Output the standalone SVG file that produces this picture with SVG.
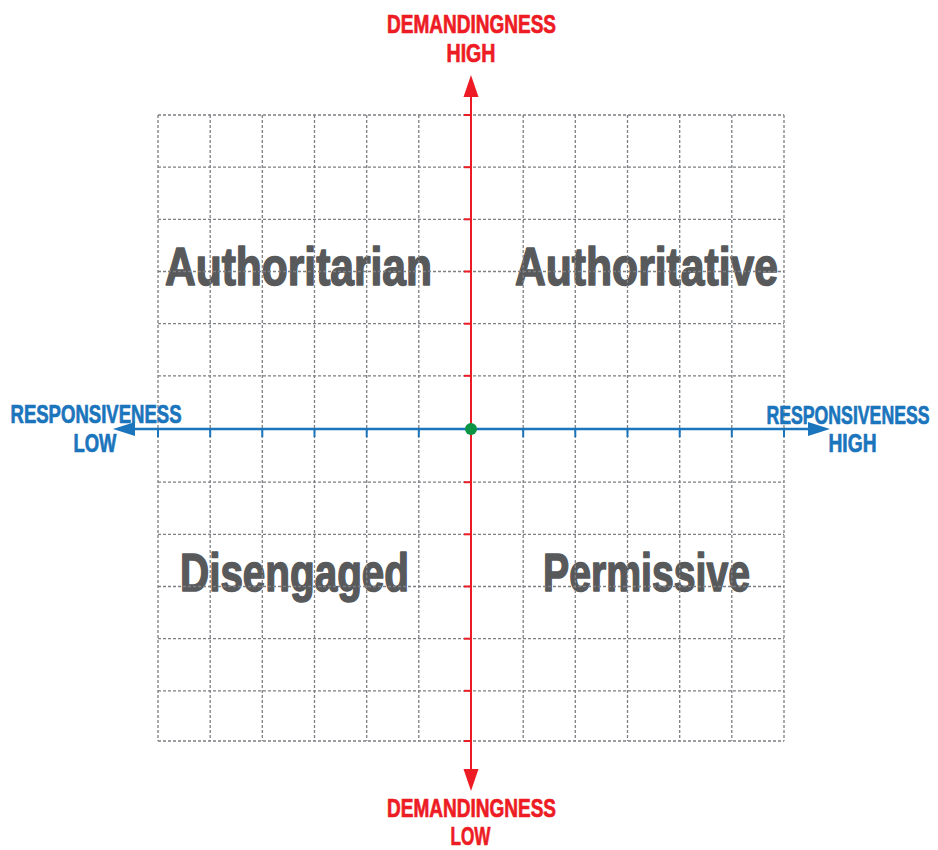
<svg xmlns="http://www.w3.org/2000/svg" width="938" height="850" viewBox="0 0 938 850">
  <style>
    .quad { font-family: "Liberation Sans", Arial, sans-serif; font-weight: bold; font-size: 53px; fill: #58595b; stroke: #58595b; stroke-width: 1.6; stroke-linejoin: round; }
    .lbl { font-family: "Liberation Sans", Arial, sans-serif; font-weight: bold; font-size: 25px; text-anchor: middle; stroke-width: 0.7; stroke-linejoin: round; }
    .red { fill: #ed1c24; stroke: #ed1c24; }
    .blue { fill: #1b75bc; stroke: #1b75bc; }
    .grid line { stroke: #7d7f82; stroke-width: 1.3; stroke-dasharray: 3 2; fill: none; }
    .tick-r { stroke: #ed1c24; stroke-width: 2; }
    .tick-b { stroke: #1b75bc; stroke-width: 2; }
  </style>
  <rect width="938" height="850" fill="#ffffff"/>

  <!-- quadrant labels -->
  <g id="authoritarian"><text class="quad" x="165" y="285" textLength="267" lengthAdjust="spacingAndGlyphs">Authoritarian</text></g>
  <g id="authoritative"><text class="quad" x="515" y="285" textLength="263" lengthAdjust="spacingAndGlyphs">Authoritative</text></g>
  <g id="disengaged"><text class="quad" x="180" y="591" textLength="229" lengthAdjust="spacingAndGlyphs">Disengaged</text></g>
  <g id="permissive"><text class="quad" x="543" y="591" textLength="207" lengthAdjust="spacingAndGlyphs">Permissive</text></g>

  <!-- dashed grid, 12 x 12 cells -->
  <g class="grid" id="grid">
    <line x1="158" y1="115" x2="158" y2="741"/>
    <line x1="210.2" y1="115" x2="210.2" y2="741"/>
    <line x1="262.3" y1="115" x2="262.3" y2="741"/>
    <line x1="314.5" y1="115" x2="314.5" y2="741"/>
    <line x1="366.7" y1="115" x2="366.7" y2="741"/>
    <line x1="418.8" y1="115" x2="418.8" y2="741"/>
    <line x1="523.2" y1="115" x2="523.2" y2="741"/>
    <line x1="575.3" y1="115" x2="575.3" y2="741"/>
    <line x1="627.5" y1="115" x2="627.5" y2="741"/>
    <line x1="679.7" y1="115" x2="679.7" y2="741"/>
    <line x1="731.8" y1="115" x2="731.8" y2="741"/>
    <line x1="784" y1="115" x2="784" y2="741"/>
    <line x1="158" y1="115" x2="784" y2="115"/>
    <line x1="158" y1="167.2" x2="784" y2="167.2"/>
    <line x1="158" y1="219.3" x2="784" y2="219.3"/>
    <line x1="158" y1="271.5" x2="784" y2="271.5"/>
    <line x1="158" y1="323.7" x2="784" y2="323.7"/>
    <line x1="158" y1="375.8" x2="784" y2="375.8"/>
    <line x1="158" y1="482.2" x2="784" y2="482.2"/>
    <line x1="158" y1="534.3" x2="784" y2="534.3"/>
    <line x1="158" y1="586.5" x2="784" y2="586.5"/>
    <line x1="158" y1="638.7" x2="784" y2="638.7"/>
    <line x1="158" y1="690.8" x2="784" y2="690.8"/>
    <line x1="158" y1="741" x2="784" y2="741"/>
  </g>

  <!-- axes -->
  <g id="connectors">
    <!-- vertical axis: demandingness -->
    <line x1="471" y1="94" x2="471" y2="772" stroke="#ed1c24" stroke-width="2"/>
    <polygon points="471,75 463.5,97 478.5,97" fill="#ed1c24"/>
    <polygon points="471,791 463.5,769 478.5,769" fill="#ed1c24"/>
    <g class="tick-r">
      <line x1="464" y1="115" x2="471" y2="115"/>
      <line x1="464" y1="167.2" x2="471" y2="167.2"/>
      <line x1="464" y1="219.3" x2="471" y2="219.3"/>
      <line x1="464" y1="271.5" x2="471" y2="271.5"/>
      <line x1="464" y1="323.7" x2="471" y2="323.7"/>
      <line x1="464" y1="375.8" x2="471" y2="375.8"/>
      <line x1="464" y1="482.2" x2="471" y2="482.2"/>
      <line x1="464" y1="534.3" x2="471" y2="534.3"/>
      <line x1="464" y1="586.5" x2="471" y2="586.5"/>
      <line x1="464" y1="638.7" x2="471" y2="638.7"/>
      <line x1="464" y1="690.8" x2="471" y2="690.8"/>
      <line x1="464" y1="741" x2="471" y2="741"/>
    </g>
    <!-- horizontal axis: responsiveness -->
    <line x1="132" y1="429" x2="812" y2="429" stroke="#1b75bc" stroke-width="2.5"/>
    <polygon points="113,429 135,422 135,436" fill="#1b75bc"/>
    <polygon points="830,429 808,422 808,436" fill="#1b75bc"/>
    <g class="tick-b">
      <line x1="158" y1="429" x2="158" y2="437"/>
      <line x1="210.2" y1="429" x2="210.2" y2="437"/>
      <line x1="262.3" y1="429" x2="262.3" y2="437"/>
      <line x1="314.5" y1="429" x2="314.5" y2="437"/>
      <line x1="366.7" y1="429" x2="366.7" y2="437"/>
      <line x1="418.8" y1="429" x2="418.8" y2="437"/>
      <line x1="523.2" y1="429" x2="523.2" y2="437"/>
      <line x1="575.3" y1="429" x2="575.3" y2="437"/>
      <line x1="627.5" y1="429" x2="627.5" y2="437"/>
      <line x1="679.7" y1="429" x2="679.7" y2="437"/>
      <line x1="731.8" y1="429" x2="731.8" y2="437"/>
      <line x1="784" y1="429" x2="784" y2="437"/>
    </g>
  </g>

  <!-- origin -->
  <g id="origin"><circle cx="471" cy="429" r="6" fill="#0b9444"/></g>

  <!-- axis end labels -->
  <g id="demand-high">
    <text class="lbl red" x="471.5" y="33" textLength="169" lengthAdjust="spacingAndGlyphs">DEMANDINGNESS</text>
    <text class="lbl red" x="471" y="62" textLength="49" lengthAdjust="spacingAndGlyphs">HIGH</text>
  </g>
  <g id="demand-low">
    <text class="lbl red" x="471.5" y="817" textLength="169" lengthAdjust="spacingAndGlyphs">DEMANDINGNESS</text>
    <text class="lbl red" x="470.5" y="845" textLength="40" lengthAdjust="spacingAndGlyphs">LOW</text>
  </g>
  <g id="resp-low">
    <text class="lbl blue" x="96" y="423" textLength="171" lengthAdjust="spacingAndGlyphs">RESPONSIVENESS</text>
    <text class="lbl blue" x="95" y="452" textLength="43" lengthAdjust="spacingAndGlyphs">LOW</text>
  </g>
  <g id="resp-high">
    <text class="lbl blue" x="848" y="424" textLength="163" lengthAdjust="spacingAndGlyphs">RESPONSIVENESS</text>
    <text class="lbl blue" x="852.5" y="452" textLength="48" lengthAdjust="spacingAndGlyphs">HIGH</text>
  </g>
</svg>
